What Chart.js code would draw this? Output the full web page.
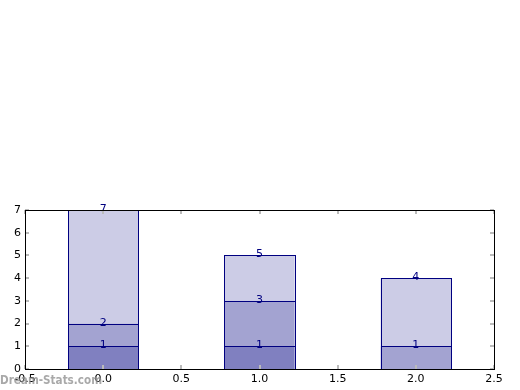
<!DOCTYPE html>
<html>
<head>
<meta charset="utf-8">
<script src="https://cdn.jsdelivr.net/npm/chart.js@4/dist/chart.umd.min.js"></script>
<style>
  html, body { margin: 0; padding: 0; background: #fff; }
  #wrap { width: 520px; height: 390px; }
</style>
</head>
<body>
<div id="wrap"><canvas id="chart" width="520" height="390"></canvas></div>
<script>
// bar positions and the size of each stacked segment (bottom, middle, top)
const positions = [0, 1, 2];
const bottom_part = [1, 1, 0];
const middle_part = [1, 2, 1];
const top_part = [5, 2, 3];
const x_ticks = [-0.5, 0.0, 0.5, 1.0, 1.5, 2.0, 2.5];
const y_ticks = [0, 1, 2, 3, 4, 5, 6, 7];

const seg_colors = ['#8080c0', '#a3a3d1', '#ccccE6'];
const edge_color = '#000080';

function points(values)
{
    // empty segments are left out
    return positions.map((p, i) => ({x: p, y: values[i] === 0 ? null : values[i]}));
}

const parts = [bottom_part, middle_part, top_part];
// Chart.js measures the slot from the 0.5 tick spacing, so 0.9 of it = 0.45 units
const datasets = parts.map((vals, k) => ({
    data: points(vals),
    backgroundColor: seg_colors[k],
    borderWidth: 0,
    categoryPercentage: 1.0,
    barPercentage: 0.9
}));

// crisp navy outline around every bar element
const bar_edges = {
    id: 'bar_edges',
    afterDatasetsDraw(chart)
    {
        const ctx = chart.ctx;
        ctx.save();
        ctx.strokeStyle = edge_color;
        ctx.lineWidth = 1;
        chart.data.datasets.forEach((ds, k) => {
            chart.getDatasetMeta(k).data.forEach(bar => {
                if (bar.skip || isNaN(bar.y)) return;
                const l = Math.round(bar.x - bar.width / 2) + 0.5;
                const r = Math.round(bar.x + bar.width / 2) + 0.5;
                const t = Math.round(bar.y) + 0.5;
                const b = Math.round(bar.base) + 0.5;
                ctx.strokeRect(l, t, r - l, b - t);
            });
        });
        ctx.restore();
    }
};

// inside tick marks on all four sides
const inside_ticks = {
    id: 'inside_ticks',
    afterDraw(chart)
    {
        const ctx = chart.ctx;
        const a = chart.chartArea;
        const xs = chart.scales.x, ys = chart.scales.y;
        ctx.save();
        ctx.strokeStyle = '#bbbbbb';
        ctx.lineWidth = 2;
        ctx.beginPath();
        x_ticks.forEach(v => {
            const px = Math.round(xs.getPixelForValue(v));
            ctx.moveTo(px, a.bottom); ctx.lineTo(px, a.bottom - 4);
            ctx.moveTo(px, a.top); ctx.lineTo(px, a.top + 4);
        });
        y_ticks.forEach(v => {
            const py = Math.round(ys.getPixelForValue(v));
            ctx.moveTo(a.left, py); ctx.lineTo(a.left + 4, py);
            ctx.moveTo(a.right, py); ctx.lineTo(a.right - 4, py);
        });
        ctx.stroke();
        // frame
        ctx.strokeStyle = '#000';
        ctx.lineWidth = 1;
        ctx.strokeRect(a.left + 0.5, a.top + 0.5, a.right - a.left, a.bottom - a.top);
        ctx.restore();
    }
};

// cumulative value written at the top of each segment
const seg_labels = {
    id: 'seg_labels',
    afterDatasetsDraw(chart)
    {
        const ctx = chart.ctx;
        const xs = chart.scales.x, ys = chart.scales.y;
        ctx.save();
        ctx.fillStyle = edge_color;
        ctx.font = '11px "DejaVu Sans"';
        ctx.textAlign = 'center';
        ctx.textBaseline = 'alphabetic';
        positions.forEach((p, i) => {
            let total = 0;
            parts.forEach(vals => {
                if (vals[i] === 0) return;
                total += vals[i];
                ctx.fillText(String(total), xs.getPixelForValue(p), ys.getPixelForValue(total) + 2);
            });
        });
        ctx.restore();
    }
};

// watermark, squeezed to the width it has in the original
const watermark = {
    id: 'watermark',
    afterDraw(chart)
    {
        const ctx = chart.ctx;
        const txt = 'Dream-Stats.com';
        ctx.save();
        ctx.fillStyle = 'rgba(140,140,140,0.75)';
        ctx.font = 'bold 13px "DejaVu Sans"';
        const w = ctx.measureText(txt).width;
        ctx.translate(0, 384);
        ctx.scale(102 / w, 1);
        ctx.textAlign = 'left';
        ctx.textBaseline = 'alphabetic';
        ctx.fillText(txt, 0, 0);
        ctx.restore();
    }
};

const ctx_chart = document.getElementById('chart').getContext('2d');
const chart = new Chart(ctx_chart, {
    type: 'bar',
    data: { datasets: datasets },
    options: {
        responsive: false,
        animation: false,
        layout: { padding: { top: 210, right: 26, left: 0, bottom: 0 } },
        plugins: { legend: { display: false }, tooltip: { enabled: false } },
        scales: {
            x: {
                type: 'linear',
                stacked: true,
                offset: false,
                min: -0.5,
                max: 2.5,
                afterBuildTicks: axis => { axis.ticks = x_ticks.map(v => ({value: v})); },
                afterFit: axis => { axis.height = 21; },
                grid: { display: false, drawTicks: false, offset: false },
                border: { display: false },
                ticks: {
                    padding: 4,
                    color: '#000',
                    font: { family: 'DejaVu Sans', size: 11 },
                    callback: v => v.toFixed(1)
                }
            },
            y: {
                stacked: true,
                min: 0,
                max: 7,
                afterBuildTicks: axis => { axis.ticks = y_ticks.map(v => ({value: v})); },
                afterFit: axis => { axis.width = 25; },
                grid: { display: false, drawTicks: false },
                border: { display: false },
                ticks: {
                    padding: 4,
                    color: '#000',
                    font: { family: 'DejaVu Sans', size: 11 },
                    callback: v => String(v)
                }
            }
        }
    },
    plugins: [bar_edges, seg_labels, inside_ticks, watermark]
});
</script>
</body>
</html>
